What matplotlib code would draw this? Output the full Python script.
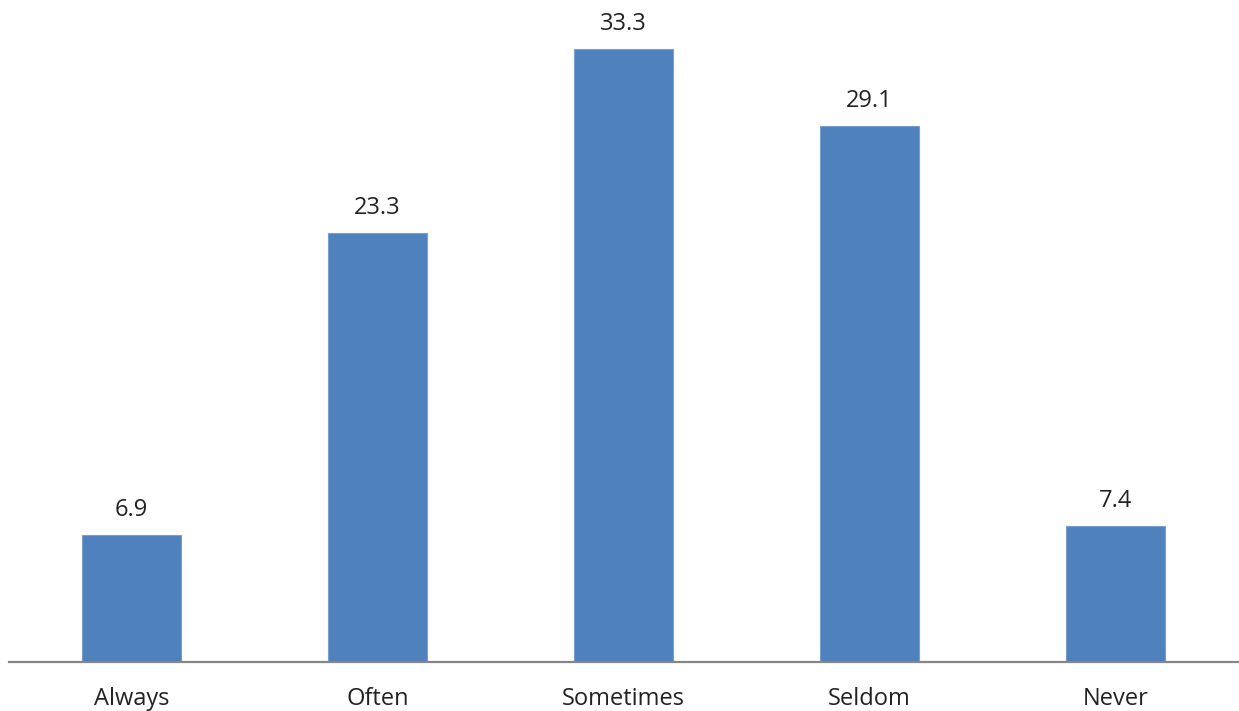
import matplotlib
matplotlib.use("Agg")
import matplotlib.pyplot as plt

categories = ["Always", "Often", "Sometimes", "Seldom", "Never"]
values = [6.9, 23.3, 33.3, 29.1, 7.4]

DPI = 100
W, H = 1239, 711
px = 72.0 / DPI  # points per pixel

plt.rcParams["font.family"] = ["Open Sans", "DejaVu Sans"]

fig = plt.figure(figsize=(W / DPI, H / DPI), dpi=DPI)
ax = fig.add_axes([8.5 / W, 49 / H, 1230 / W, 662 / H])

x = list(range(len(categories)))
bars = ax.bar(x, values, width=0.402, color="#4F81BD", edgecolor="#7A9FCF", linewidth=0.8)

ax.set_xlim(-0.5, len(categories) - 0.5)
ax.set_ylim(0, 35.96)

for s in ["top", "right", "left"]:
    ax.spines[s].set_visible(False)
ax.spines["bottom"].set_color("#868686")
ax.spines["bottom"].set_linewidth(1.6)
ax.set_yticks([])
ax.set_xticks([])

# value labels above each bar
for xi, v in zip(x, values):
    ax.annotate(f"{v:.1f}", xy=(xi, v), xytext=(0, 19 * px), textcoords="offset points",
                ha="center", va="baseline", fontsize=17, color="#222222")

# category labels under the axis
for xi, c in zip(x, categories):
    ax.annotate(c, xy=(xi, 0), xytext=(0, -43 * px), textcoords="offset points",
                ha="center", va="baseline", fontsize=17, color="#222222",
                annotation_clip=False)

fig.savefig("out.png", dpi=DPI)
